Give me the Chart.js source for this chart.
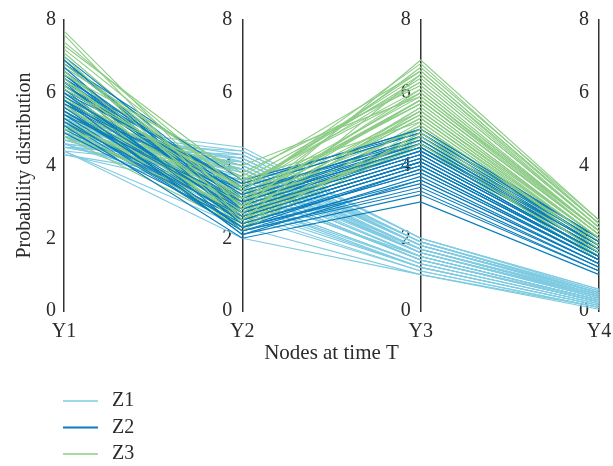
<!DOCTYPE html>
<html>
<head>
<meta charset="utf-8">
<script src="https://cdn.jsdelivr.net/npm/chart.js@4/dist/chart.umd.min.js"></script>
<style>
  body { margin: 0; background: #fff; }
</style>
</head>
<body>
<canvas id="pcchart" width="613" height="466"></canvas>
<script>
// axes of the parallel plot
var nodes = ['Y1', 'Y2', 'Y3', 'Y4'];
var yTicks = [0, 2, 4, 6, 8];

var groups = ['Z1', 'Z2', 'Z3'];
var groupColors = ['#7fcbe2', '#0a7dbc', '#8ccc86'];

// Z1 values at Y1..Y4, one entry per line
var z1_y1 = [4.3, 4.4, 4.5, 4.5, 4.6, 4.6, 4.7, 4.7, 4.8, 4.8, 4.9, 4.9, 5.0, 5.0, 5.0, 5.1, 5.1, 5.2, 5.2, 5.3, 4.4, 4.6, 4.8, 5.0, 5.4, 4.7, 4.9, 5.1, 5.3, 4.5,
             4.4, 4.5, 4.6, 4.7, 4.8, 4.9, 5.0, 5.1, 5.2, 4.3, 4.6, 4.8, 5.0, 4.5, 4.9];
var z1_y2 = [3.2, 2.3, 3.6, 4.1, 3.9, 2.9, 4.4, 3.4, 4.2, 3.0, 3.8, 4.0, 3.5, 4.3, 2.6, 3.7, 4.5, 3.3, 3.9, 4.1, 2.0, 3.1, 3.6, 4.2, 3.8, 3.4, 2.8, 4.0, 3.2, 3.7,
             3.9, 4.3, 3.1, 4.0, 3.6, 2.7, 4.4, 3.3, 3.9, 3.5, 4.1, 3.0, 3.7, 4.2, 3.4];
var z1_y3 = [1.5, 1.0, 1.7, 1.9, 1.6, 1.2, 2.0, 1.4, 1.8, 1.3, 1.6, 1.7, 1.5, 1.9, 1.1, 1.6, 2.0, 1.4, 1.7, 1.8, 1.0, 1.3, 1.5, 1.8, 1.7, 1.4, 1.2, 1.8, 1.5, 1.6,
             1.7, 1.9, 1.3, 1.8, 1.6, 1.1, 2.0, 1.4, 1.7, 1.5, 1.8, 1.2, 1.6, 1.9, 1.4];
var z1_y4 = [0.3, 0.1, 0.4, 0.5, 0.35, 0.15, 0.6, 0.25, 0.5, 0.2, 0.4, 0.45, 0.3, 0.55, 0.1, 0.4, 0.6, 0.25, 0.45, 0.5, 0.05, 0.2, 0.3, 0.5, 0.45, 0.25, 0.15, 0.5, 0.3, 0.4,
             0.4, 0.5, 0.2, 0.45, 0.35, 0.1, 0.55, 0.25, 0.4, 0.3, 0.5, 0.15, 0.35, 0.5, 0.3];

// Z2
var z2_y1 = [4.9, 5.1, 5.2, 5.3, 5.4, 5.5, 5.5, 5.6, 5.7, 5.8, 5.8, 5.9, 6.0, 6.0, 6.1, 6.2, 6.2, 6.3, 6.4, 6.5, 6.6, 6.7, 6.8, 6.9, 7.0, 5.4, 5.7, 6.1, 6.5, 5.9,
             5.0, 5.2, 5.6, 5.8, 6.0, 6.3, 6.6, 6.8, 5.3, 5.5, 6.1, 6.4, 5.7, 6.2, 6.9];
var z2_y2 = [2.4, 2.0, 2.6, 2.2, 3.0, 2.5, 2.8, 2.3, 3.3, 2.7, 2.1, 3.1, 2.6, 3.5, 2.4, 2.9, 3.2, 2.2, 3.4, 2.8, 3.0, 2.5, 3.6, 2.7, 3.1, 2.3, 2.9, 3.3, 2.6, 3.0,
             2.5, 2.2, 2.8, 3.1, 2.4, 3.4, 2.7, 3.0, 2.3, 2.6, 3.2, 2.8, 2.1, 3.5, 2.9];
var z2_y3 = [3.8, 3.0, 4.1, 3.3, 4.5, 4.0, 4.3, 3.5, 4.7, 4.2, 3.6, 4.6, 4.1, 5.0, 3.9, 4.4, 4.8, 3.7, 4.9, 4.3, 4.5, 4.0, 4.9, 4.2, 4.7, 3.9, 4.4, 4.6, 4.1, 4.5,
             4.0, 3.4, 4.3, 4.7, 3.8, 4.9, 4.2, 4.6, 3.6, 4.1, 4.8, 4.4, 3.2, 5.0, 4.5];
var z2_y4 = [1.4, 1.0, 1.5, 1.1, 1.8, 1.5, 1.6, 1.2, 1.9, 1.6, 1.3, 1.8, 1.5, 2.0, 1.4, 1.7, 1.9, 1.3, 1.9, 1.6, 1.7, 1.5, 2.0, 1.6, 1.8, 1.4, 1.7, 1.8, 1.5, 1.7,
             1.5, 1.2, 1.6, 1.8, 1.4, 1.9, 1.6, 1.8, 1.3, 1.5, 1.9, 1.7, 1.1, 2.0, 1.7];

// Z3
var z3_y1 = [7.7, 7.6, 7.3, 7.2, 7.0, 6.8, 6.6, 6.5, 6.4, 6.3, 6.2, 6.1, 6.0, 5.9, 5.8, 5.7, 5.6, 5.5, 5.4, 5.3, 5.2, 5.1, 5.0, 4.9, 4.8, 6.5, 6.0, 5.6, 5.2, 6.9,
             7.4, 7.1, 6.7, 6.4, 6.2, 5.9, 5.7, 5.4, 5.1, 4.8, 6.6, 6.1, 5.5, 5.0, 6.3];
var z3_y2 = [2.8, 2.5, 3.6, 3.3, 2.4, 3.0, 2.7, 3.8, 2.3, 3.1, 2.6, 3.4, 2.9, 2.5, 3.7, 2.2, 3.2, 2.8, 4.0, 2.6, 3.0, 2.4, 3.5, 2.7, 3.1, 3.3, 2.5, 2.9, 2.7, 3.0,
             3.3, 2.9, 3.6, 2.6, 3.2, 2.4, 3.5, 2.8, 3.1, 2.3, 2.7, 3.4, 2.9, 2.5, 3.0];
var z3_y3 = [6.9, 6.5, 5.2, 6.8, 4.8, 6.0, 5.6, 6.2, 5.0, 5.8, 4.6, 6.4, 5.4, 5.1, 6.6, 4.9, 5.7, 5.3, 5.9, 4.7, 5.5, 5.2, 6.1, 4.5, 5.0, 6.3, 5.6, 5.8, 5.4, 6.7,
             6.6, 6.1, 6.3, 5.5, 5.9, 4.9, 6.0, 5.3, 5.7, 4.6, 5.1, 6.5, 5.4, 4.8, 5.8];
var z3_y4 = [2.5, 2.3, 1.8, 2.4, 1.6, 2.1, 2.0, 2.2, 1.7, 2.1, 1.5, 2.3, 1.9, 1.8, 2.4, 1.6, 2.0, 1.9, 2.2, 1.5, 2.0, 1.8, 2.2, 1.4, 1.7, 2.3, 2.0, 2.1, 1.9, 2.5,
             2.4, 2.2, 2.3, 1.9, 2.1, 1.6, 2.2, 1.8, 2.0, 1.5, 1.7, 2.4, 1.9, 1.6, 2.1];

var groupData = [
    [z1_y1, z1_y2, z1_y3, z1_y4],
    [z2_y1, z2_y2, z2_y3, z2_y4],
    [z3_y1, z3_y2, z3_y3, z3_y4]
];

var FONT = "'Liberation Serif', 'DejaVu Serif', serif";
var TEXT = '#2b2b2b';

// lines of Z2 and Z3 are interleaved so neither group covers the other; Z1 stays underneath
function buildDatasets() {
    var sets = [];
    var n = groupData[0][0].length;
    for (var i = 0; i < n; i++) {
        for (var g = 0; g < groups.length; g++) {
            var cols = groupData[g];
            if (i >= cols[0].length) continue;
            sets.push({
                label: groups[g],
                data: [cols[0][i], cols[1][i], cols[2][i], cols[3][i]],
                borderColor: groupColors[g],
                borderWidth: 1.1,
                pointRadius: 0,
                tension: 0,
                fill: false,
                order: g == 0 ? 2 : 1,
                yAxisID: 'y'
            });
        }
    }
    return sets;
}

function axisAt(index) {
    return {
        type: 'linear',
        position: { x: index },
        min: 0,
        max: 8,
        afterBuildTicks: function (scale) {
            scale.ticks = yTicks.map(function (v) { return { value: v }; });
        },
        grid: { display: false, drawTicks: false },
        border: { display: true, color: '#333', width: 1.5 },
        // labels of a value-positioned axis sit right on the line, an en space keeps them off it
        ticks: {
            color: TEXT, font: { family: FONT, size: 20 }, padding: 0,
            callback: function (v) { return v + '\u2002'; }
        }
    };
}

// simple vertical legend under the plot
var groupLegend = {
    id: 'groupLegend',
    afterDraw: function (chart) {
        var ctx = chart.ctx;
        ctx.save();
        for (var g = 0; g < groups.length; g++) {
            var y = 401 + g * 26.5;
            ctx.strokeStyle = groupColors[g];
            ctx.lineWidth = g == 1 ? 2.2 : 1.5;
            ctx.beginPath();
            ctx.moveTo(63, y);
            ctx.lineTo(98, y);
            ctx.stroke();
            ctx.fillStyle = TEXT;
            ctx.font = '20px ' + FONT;
            ctx.textBaseline = 'middle';
            ctx.textAlign = 'left';
            ctx.fillText(groups[g], 112, y);
        }
        ctx.restore();
    }
};

var scales = {
    x: {
        type: 'category',
        offset: false,
        grid: { display: false, drawTicks: true, tickLength: 9 },
        border: { display: false },
        ticks: { color: TEXT, font: { family: FONT, size: 20 }, padding: 0, maxRotation: 0 },
        title: { display: true, text: 'Nodes at time T', color: TEXT, font: { family: FONT, size: 21 }, padding: { top: 6 } },
        afterFit: function (scale) { scale.height = 59; }
    },
    y: {
        type: 'linear',
        position: 'left',
        min: 0,
        max: 8,
        afterBuildTicks: function (scale) {
            scale.ticks = yTicks.map(function (v) { return { value: v }; });
        },
        grid: { display: false, drawTicks: false },
        border: { display: true, color: '#333', width: 1.5 },
        ticks: { color: TEXT, font: { family: FONT, size: 20 }, padding: 8 },
        title: { display: true, text: 'Probability distribution', color: TEXT, font: { family: FONT, size: 20 }, padding: { top: 13, bottom: 0 } },
        afterFit: function (scale) { scale.width = 64; }
    },
    y2: axisAt(1),
    y3: axisAt(2),
    y4: axisAt(3)
};

var ctx = document.getElementById('pcchart').getContext('2d');
var chart = new Chart(ctx, {
    type: 'line',
    data: { labels: nodes, datasets: buildDatasets() },
    options: {
        responsive: false,
        animation: false,
        layout: { padding: { left: 0, right: 14, top: 18, bottom: 96 } },
        plugins: { legend: { display: false }, tooltip: { enabled: false } },
        scales: scales
    },
    plugins: [groupLegend]
});
</script>
</body>
</html>
